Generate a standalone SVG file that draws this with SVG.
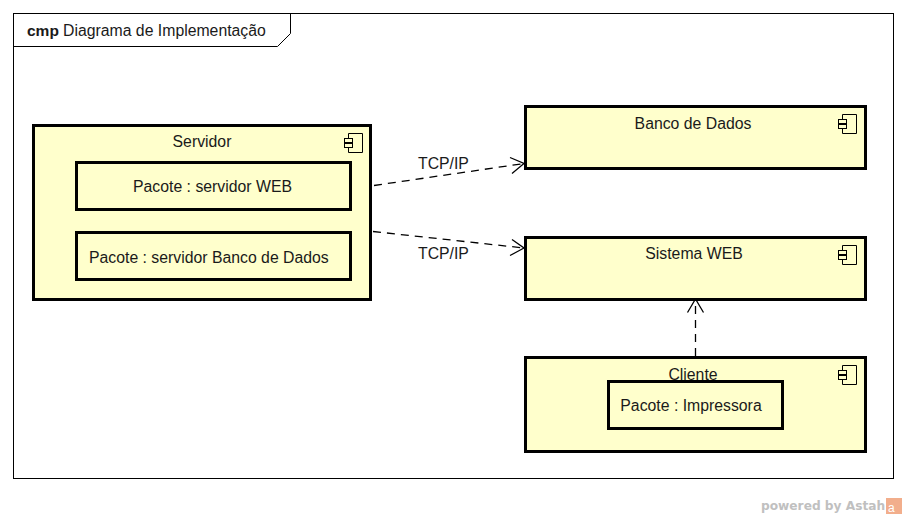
<svg xmlns="http://www.w3.org/2000/svg" width="906" height="518" viewBox="0 0 906 518">
<style>
text{font-family:"Liberation Sans",Arial,sans-serif;font-size:15.800px;fill:#1a1a1a}
.m{text-anchor:middle}
.box{fill:#ffffcc;stroke:#000;stroke-width:3}
.ico{fill:#ffffcc;stroke:#000;stroke-width:1}
.dep{fill:none;stroke:#000;stroke-width:1.3;stroke-dasharray:8 6}
.head{fill:none;stroke:#000;stroke-width:1.3}
</style>
<defs>
<g id="icon">
<path class="ico" d="M4.500 .5H18.500V19.500H4.500V14.500M4.500 10V6M4.500 .5V5.500"/>
<rect class="ico" x=".5" y="5.500" width="8" height="4"/>
<rect class="ico" x=".5" y="10.500" width="8" height="4"/>
</g>
</defs>
<rect width="906" height="518" fill="#fff"/>
<g id="frame">
<rect x="13.500" y="13.500" width="880" height="465" fill="#fff" stroke="#000"/>
<path d="M13.500 46.500H277.500L290.500 33.500V13.500" fill="none" stroke="#000"/>
<text x="27" y="36" style="font-weight:700;font-size:15.500px">cmp</text>
<text x="63" y="36">Diagrama de Implementação</text>
</g>
<g id="connectors">
<path class="dep" d="M374 185.500L524 163.500"/>
<path class="head" d="M510 157.500L524 163.500L512 173.500"/>
<path class="dep" d="M373 231.500L524 248"/>
<path class="head" d="M512 239.500L524 248L510 255.500"/>
<path class="dep" d="M695.500 356V300"/>
<path class="head" d="M687.500 312.500L695.500 299L703.500 312.500"/>
<text x="418" y="168.500">TCP/IP</text>
<text x="418" y="258.500">TCP/IP</text>
</g>
<g id="servidor">
<rect class="box" x="33.500" y="125.500" width="337" height="174"/>
<use href="#icon" x="344" y="133"/>
<text class="m" x="202" y="147">Servidor</text>
</g>
<g id="pacote-web">
<rect class="box" x="76.500" y="162.500" width="274" height="47"/>
<text class="m" x="212.500" y="191.500">Pacote : servidor WEB</text>
</g>
<g id="pacote-banco">
<rect class="box" x="76.500" y="232.500" width="274" height="47"/>
<text x="89" y="262.500">Pacote : servidor Banco de Dados</text>
</g>
<g id="banco">
<rect class="box" x="525.500" y="106.500" width="340" height="62"/>
<use href="#icon" x="838" y="114"/>
<text class="m" x="693" y="128.500">Banco de Dados</text>
</g>
<g id="sistema">
<rect class="box" x="525.500" y="237.500" width="340" height="62"/>
<use href="#icon" x="838" y="245"/>
<text class="m" x="694" y="259">Sistema WEB</text>
</g>
<g id="cliente">
<rect class="box" x="525.500" y="357.500" width="340" height="94"/>
<use href="#icon" x="838" y="365"/>
<text class="m" x="693" y="379.500">Cliente</text>
</g>
<g id="pacote-impressora">
<rect class="box" x="608.500" y="381.500" width="174" height="47"/>
<text class="m" x="691" y="411">Pacote : Impressora</text>
</g>
<g id="watermark">
<text x="761" y="510" style="font-family:'DejaVu Sans',sans-serif;font-size:12.200px;font-weight:700;fill:#c0c0c0">powered by Astah</text>
<rect x="886" y="498" width="16" height="16" fill="#f2ae8c"/>
<text x="888" y="512" style="font-size:12px;fill:#fff">a</text>
</g>
</svg>
